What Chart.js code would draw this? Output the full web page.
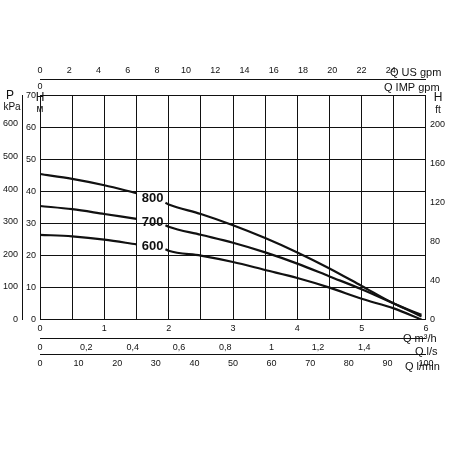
<!DOCTYPE html>
<html>
<head>
<script src="https://cdn.jsdelivr.net/npm/chart.js@4"></script>
<style>
body { margin: 0; background: #fff; }
#wrap { width: 450px; height: 450px; }
</style>
</head>
<body>
<div id="wrap"><canvas id="pump"></canvas></div>
<script>
// flow in m3/h, head in m (null = gap for the curve label)
const flow = [0, 0.5, 1, 1.5, 1.55, 1.95, 2, 2.5, 3, 3.5, 4, 4.5, 5, 5.5, 5.93];
const head800 = [45.5, 44, 42, 39.5, null, 36.5, 36, 33, 29.5, 25.5, 21, 16, 10.5, 5, 1.5];
const head700 = [35.5, 34.5, 33, 31.5, null, 29.5, 29, 26.5, 24, 21, 17.5, 13.5, 9.5, 5, 1];
const head600 = [26.5, 26, 25, 23.5, null, 22, 21.5, 20, 18, 15.5, 13, 10, 6.5, 3.5, 0];
const curveNames = ['800', '700', '600'];
const labelPos = [[1.75, 38], [1.75, 30.5], [1.75, 23]];

const Q_MAX = 6, H_MAX = 70;
const black = '#111';
const font = { family: 'Liberation Sans', size: 9 };

function pts(ys) { return flow.map((x, i) => ({ x: x, y: ys[i] })); }

// keep only whole steps, drop the odd max tick
function stepOnly(step) {
    return s => { s.ticks = s.ticks.filter(t => Math.abs(t.value / step - Math.round(t.value / step)) < 1e-6); };
}

function axis(pos, min, max, step, extra) {
    return Object.assign({
        type: 'linear', position: pos, min: min, max: max,
        grid: { display: false, drawTicks: true, tickLength: 3, color: black },
        border: { color: black },
        afterBuildTicks: stepOnly(step),
        ticks: { stepSize: step, color: black, font: font, padding: 1,
            callback: v => Math.round(v * 10) / 10 }
    }, extra || {});
}

// draws curve labels and unit titles
const textPlugin = {
    id: 'texts',
    afterDraw(chart) {
        const ctx = chart.ctx, a = chart.chartArea, sx = chart.scales.x, sy = chart.scales.y;
        ctx.save();
        ctx.fillStyle = black;
        ctx.font = 'bold 13px "Liberation Sans Narrow", "Liberation Sans"';
        ctx.textAlign = 'center';
        ctx.textBaseline = 'middle';
        curveNames.forEach((n, i) => {
            ctx.fillText(n, sx.getPixelForValue(labelPos[i][0]), sy.getPixelForValue(labelPos[i][1]));
        });
        ctx.font = '11px "Liberation Sans"';
        ctx.textAlign = 'left';
        ctx.fillText('Q US gpm', 390, 73);
        ctx.fillText('Q IMP gpm', 384, 88);
        ctx.fillText('Q m³/h', 403, 339);
        ctx.fillText('Q l/s', 415, 352);
        ctx.fillText('Q l/min', 405, 367);
        ctx.textAlign = 'center';
        ctx.font = '12px "Liberation Sans"';
        ctx.fillText('P', 10, a.top);
        ctx.fillText('H', 40, a.top + 2);
        ctx.fillText('H', a.right + 12, a.top + 2);
        ctx.font = '10px "Liberation Sans"';
        ctx.fillText('kPa', 12, a.top + 12);
        ctx.fillText('м', 40, a.top + 14);
        ctx.fillText('ft', a.right + 12, a.top + 15);
        ctx.restore();
    }
};

function curve(ys) {
    return { data: pts(ys), borderColor: black, borderWidth: 2.2, pointRadius: 0,
        cubicInterpolationMode: 'monotone', spanGaps: false, fill: false };
}

new Chart(document.getElementById('pump'), {
    type: 'line',
    data: { datasets: [curve(head800), curve(head700), curve(head600)] },
    options: {
        responsive: true,
        maintainAspectRatio: false,
        animation: false,
        layout: { padding: { top: 64, right: 4, left: 2, bottom: 80 } },
        plugins: { legend: { display: false }, tooltip: { enabled: false } },
        scales: {
            x: axis('bottom', 0, Q_MAX, 0.5, {
                grid: { display: true, color: black, lineWidth: 1, drawTicks: false },
                ticks: { stepSize: 0.5, color: black, font: font, padding: 4,
                    callback: v => Number.isInteger(v) ? v : '' }
            }),
            ls: axis('bottom', 0, Q_MAX / 3.6, 0.2, {
                ticks: { stepSize: 0.2, color: black, font: font, padding: 1,
                    callback: v => String(Math.round(v * 10) / 10).replace('.', ',') }
            }),
            lmin: axis('bottom', 0, Q_MAX * 1000 / 60, 10),
            impgpm: axis('top', 0, Q_MAX * 3.666, 2),
            usgpm: axis('top', 0, Q_MAX * 4.403, 2),
            y: axis('left', 0, H_MAX, 10, {
                grid: { display: true, color: black, lineWidth: 1, drawTicks: false },
                ticks: { stepSize: 10, color: black, font: font, padding: 4 }
            }),
            kpa: axis('left', 0, H_MAX * 9.81, 100),
            ft: axis('right', 0, H_MAX * 3.281, 20, {
                ticks: { stepSize: 20, color: black, font: font, padding: 1,
                    callback: v => Math.round(v) % 40 === 0 ? Math.round(v) : '' }
            })
        }
    },
    plugins: [textPlugin]
});
</script>
</body>
</html>
